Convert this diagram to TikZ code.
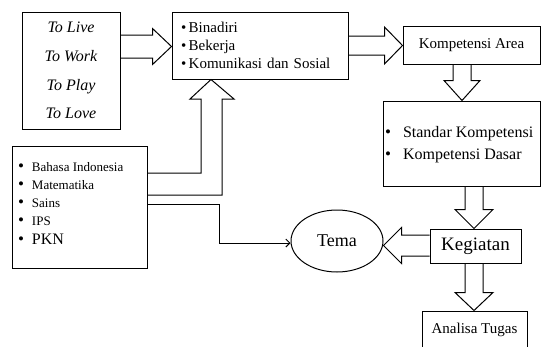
\documentclass[tikz,border=0pt]{standalone}
\usepackage{fontspec}
\setmainfont{Liberation Serif}
\usetikzlibrary{arrows.meta,calc,shapes.geometric}
\tikzset{
 box/.style={draw, line width=1pt, fill=white, inner sep=0pt},
 blk/.style={draw, line width=1pt, line join=miter},
 conn/.style={draw, line width=1pt},
}
\newcommand\blkR[5]{\path[blk] let \p1=(#1), \p2=(#2) in (\x1,\y1+#3) -- (\x2-#5,\y1+#3) -- (\x2-#5,\y1+#4) -- (\x2,\y1) -- (\x2-#5,\y1-#4) -- (\x2-#5,\y1-#3) -- (\x1,\y1-#3);}
\newcommand\blkL[5]{\path[blk] let \p1=(#1), \p2=(#2) in (\x1,\y1+#3) -- (\x2+#5,\y1+#3) -- (\x2+#5,\y1+#4) -- (\x2,\y1) -- (\x2+#5,\y1-#4) -- (\x2+#5,\y1-#3) -- (\x1,\y1-#3);}
\newcommand\blkD[5]{\path[blk] let \p1=(#1), \p2=(#2) in (\x1-#3,\y1) -- (\x1-#3,\y2+#5) -- (\x1-#4,\y2+#5) -- (\x1,\y2) -- (\x1+#4,\y2+#5) -- (\x1+#3,\y2+#5) -- (\x1+#3,\y1);}
\newcommand\bigbul{{\fontsize{17}{18}\selectfont\textbullet}}
\begin{document}
\begin{tikzpicture}[x=1pt,y=-1pt]
\useasboundingbox (0,0) rectangle (541,346);
\node[box, minimum width=98pt, minimum height=117pt, align=center, font=\fontsize{16}{28.7}\selectfont\itshape] (life) at (71,70.5) {To Live\\To Work\\To Play\\To Love};
\node[box, minimum width=176pt, minimum height=67pt, text width=158pt, align=left, font=\fontsize{15}{18}\selectfont] (skill) at (260,45.5) {\textbullet\,Binadiri\\ \textbullet\,Bekerja\\ \textbullet\,Komunikasi dan Sosial};
\node[box] (subj) at (79.5,207) {\parbox[c][122pt][t]{135pt}{\raggedright\leftskip=6pt\fontsize{13}{18}\selectfont\noindent
\rule{0pt}{25pt}\makebox[14pt][l]{\bigbul}Bahasa Indonesia\\
\makebox[14pt][l]{\bigbul}Matematika\\
\makebox[14pt][l]{\bigbul}Sains\\
\makebox[14pt][l]{\bigbul}IPS\\[1pt]
{\fontsize{16}{18}\selectfont\makebox[14pt][l]{\bigbul}PKN}}};
\node[box, minimum width=137pt, minimum height=38pt, font=\fontsize{15}{18}\selectfont] (ka) at (471.5,45) {Kompetensi Area};
\node[box] (sk) at (461.5,143.5) {\parbox[c][85pt][t]{157pt}{\raggedright\leftskip=2pt\fontsize{16}{22}\selectfont\noindent
\rule{0pt}{36pt}\makebox[18pt][l]{\bigbul}Standar Kompetensi\\
\makebox[18pt][l]{\bigbul}Kompetensi Dasar}};
\node[box, minimum width=91pt, minimum height=34pt, font=\fontsize{19}{22}\selectfont] (keg) at (475.5,246) {Kegiatan};
\node[box, minimum width=105pt, minimum height=38pt, font=\fontsize{15}{18}\selectfont] (at) at (474.5,330) {Analisa Tugas};
\node[draw, ellipse, line width=1pt, minimum width=92pt, minimum height=62pt, inner sep=0pt, font=\fontsize{18}{20}\selectfont] (tema) at (337,241) {Tema};
\blkR{life.east |- 0,46.5}{skill.west}{11.5pt}{18pt}{19pt}
\blkR{skill.east |- 0,45.5}{ka.west}{9.5pt}{18.5pt}{18pt}
\blkD{ka.south -| 462,0}{sk.north}{9pt}{18pt}{20pt}
\blkD{sk.south -| 474,0}{keg.north}{9pt}{19pt}{19pt}
\blkL{keg.west |- 0,245.5}{tema.east}{10.5pt}{18pt}{18pt}
\blkD{keg.south -| 474,0}{at.north}{9pt}{19pt}{18pt}
\draw[blk] (subj.east |- 0,173) -| (201,99) -- (190,99) -- (skill.south -| 211,0) -- (234,99) -- (222,99) |- (subj.east |- 0,195);
\draw[conn, -{Straight Barb[length=4pt,width=8pt]}] (subj.east |- 0,204) -| (219,243) -- (tema.west |- 0,243);
\end{tikzpicture}
\end{document}
